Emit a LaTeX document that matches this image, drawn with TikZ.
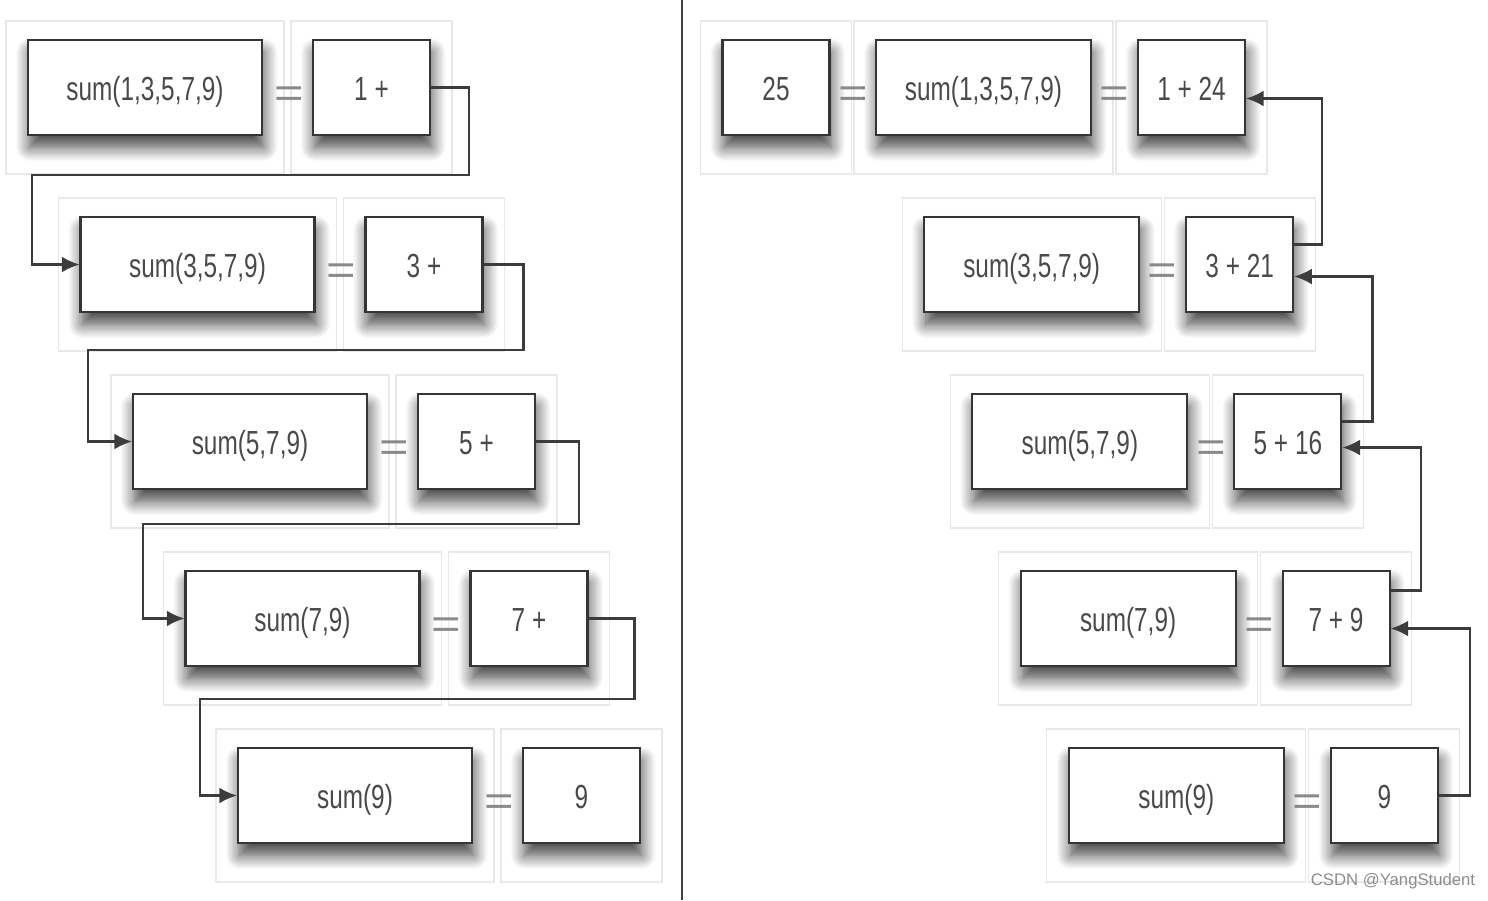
\documentclass[tikz,border=0pt]{standalone}
\usepackage{fontspec}
\newfontfamily\lblfont[FakeStretch=0.73]{Liberation Sans}
\newfontfamily\eqfont[FakeStretch=1.2]{Liberation Sans}
\newfontfamily\wmfont{Liberation Sans}
\usetikzlibrary{arrows.meta,calc,shadows.blur,backgrounds}
\definecolor{boxc}{HTML}{353535}
\definecolor{txtc}{HTML}{4A4A4A}
\definecolor{eqc}{HTML}{8A8A8A}
\definecolor{framec}{HTML}{E8E8E8}
\definecolor{linec}{HTML}{3C3C3C}
\definecolor{wmc}{HTML}{8C8C8C}
\newcommand\lblsz{\lblfont\fontsize{19}{21}\selectfont}
\newcommand\eqsz{\eqfont\fontsize{24}{24}\selectfont}
\tikzset{
  box/.style={draw=boxc, line width=1.2pt, fill=white, minimum height=1.9cm, inner sep=0pt,
    text=txtc, font=\lblsz, text height=19pt, text depth=4pt,
    blur shadow={shadow xshift=1pt, shadow yshift=-7pt, shadow blur radius=8pt, shadow blur steps=12, shadow opacity=75}},
  lbig/.style={box, minimum width=4.68cm},
  lsmall/.style={box, minimum width=2.34cm},
  rbig/.style={box, minimum width=4.3cm},
  rsmall/.style={box, minimum width=2.14cm},
  eqn/.style={text=eqc, font=\eqsz, inner sep=0pt},
  framebox/.style={draw=framec, line width=0.7pt},
  conn/.style={draw=linec, line width=1.2pt, -{Latex[length=10pt,width=9pt]}},
  divider/.style={draw=black!75, line width=1.2pt},
  wmark/.style={text=wmc, font=\wmfont\fontsize{9.5}{10}\selectfont, inner sep=0pt}
}
\begin{document}
\begin{tikzpicture}[x=0.02cm,y=-0.02cm]
\useasboundingbox (0,0) rectangle (1488,900);
% divider
\draw[divider] (682,0) -- (682,900);
% ---------- left side ----------
\foreach \i/\bt/\st in {0/{sum(1,3,5,7,9)}/{1 +},1/{sum(3,5,7,9)}/{3 +},2/{sum(5,7,9)}/{5 +},3/{sum(7,9)}/{7 +},4/{sum(9)}/{9}}{
  \node[lbig] (LB\i) at ({145+52.5*\i},{87.5+177*\i}) {\bt};
  \node[lsmall] (LS\i) at ({371.5+52.5*\i},{87.5+177*\i}) {\st};
  \node[eqn] (LE\i) at ({289+52.5*\i},{97+177*\i}) {=};
}
% ---------- right side ----------
\node[rsmall] (R25) at (776,87.5) {25};
\node[eqn] (RE25) at (853,97) {=};
\foreach \i/\bt/\st in {0/{sum(1,3,5,7,9)}/{1 + 24},1/{sum(3,5,7,9)}/{3 + 21},2/{sum(5,7,9)}/{5 + 16},3/{sum(7,9)}/{7 + 9},4/{sum(9)}/{9}}{
  \node[rbig] (RB\i) at ({983.5+48.2*\i},{87.5+177*\i}) {\bt};
  \node[rsmall] (RS\i) at ({1191.5+48.2*\i},{87.5+177*\i}) {\st};
  \node[eqn] (RE\i) at ({1114.5+48.2*\i},{97+177*\i}) {=};
}
% frames
\begin{scope}[on background layer]
  \foreach \n in {LB0,LB1,LB2,LB3,LB4,LS0,LS1,LS2,LS3,LS4,R25,RB0,RB1,RB2,RB3,RB4,RS0,RS1,RS2,RS3,RS4}{
    \draw[framebox] ($(\n.north west)+(-21,-18)$) rectangle ($(\n.south east)+(21,38)$);
  }
\end{scope}
% left connectors
\coordinate (k1) at (32,175);
\coordinate (k2) at (88,350);
\coordinate (k3) at (143,524);
\coordinate (k4) at (200,699);
\draw[conn] (LS0.east) -- ++(38,0) |- (k1) |- (LB1.west);
\draw[conn] (LS1.east) -- ++(40,0) |- (k2) |- (LB2.west);
\draw[conn] (LS2.east) -- ++(43,0) |- (k3) |- (LB3.west);
\draw[conn] (LS3.east) -- ++(46,0) |- (k4) |- (LB4.west);
% right connectors
\draw[conn] (RS4.east) -- ++(31,0) |- ($(RS3.east)+(0,10)$);
\draw[conn] ($(RS3.east)+(0,-28)$) -- ++(30,0) |- ($(RS2.east)+(0,6)$);
\draw[conn] ($(RS2.east)+(0,-20)$) -- ++(30,0) |- ($(RS1.east)+(0,12)$);
\draw[conn] ($(RS1.east)+(0,-20)$) -- ++(28,0) |- ($(RS0.east)+(0,11)$);
% watermark
\node[wmark] (wm) at (1393,881) {CSDN @YangStudent};
\end{tikzpicture}
\end{document}
